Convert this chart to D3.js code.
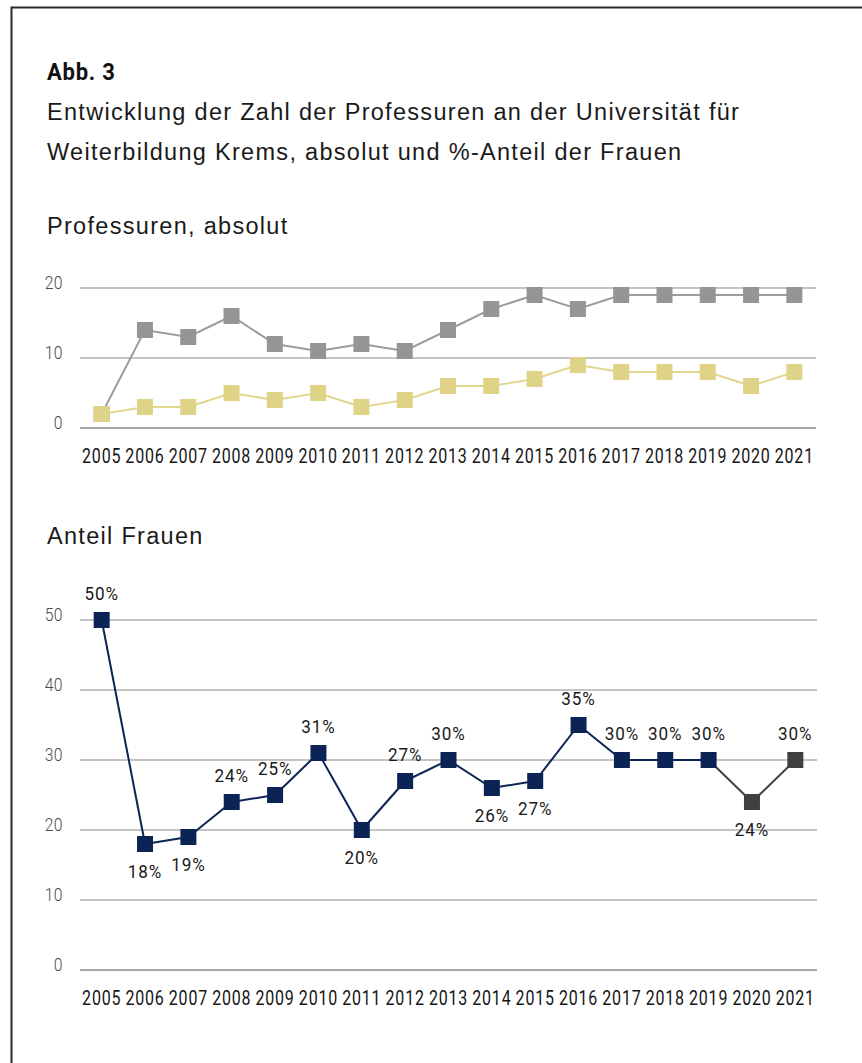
<!DOCTYPE html>
<html>
<head>
<meta charset="utf-8">
<script src="https://cdn.jsdelivr.net/npm/d3@7"></script>
<style>
  html, body { margin: 0; padding: 0; background: #fff; }
  svg { display: block; }
</style>
</head>
<body>
<svg id="chart" width="862" height="1063"></svg>
<script>
// Jahre (Kategorien der x-Achse)
const years = ["2005","2006","2007","2008","2009","2010","2011","2012","2013",
               "2014","2015","2016","2017","2018","2019","2020","2021"];

// Professuren gesamt (absolut)
const professurenGesamt = [2, 14, 13, 16, 12, 11, 12, 11, 14, 17, 19, 17, 19, 19, 19, 19, 19];
// davon Frauen (absolut)
const professurenFrauen = [2, 3, 3, 5, 4, 5, 3, 4, 6, 6, 7, 9, 8, 8, 8, 6, 8];

// Frauenanteil in Prozent
const anteilFrauen = [50, 18, 19, 24, 25, 31, 20, 27, 30, 26, 27, 35, 30, 30, 30, 24, 30];
// Jahre, deren Beschriftung unter dem Punkt steht
const labelBelow = ["2006", "2007", "2011", "2014", "2015", "2020"];
// Jahre, die in Dunkelgrau dargestellt werden
const greyYears = ["2020", "2021"];

// Achsenbeschriftungen
const ticksAbsolut = [0, 10, 20];
const ticksAnteil = [0, 10, 20, 30, 40, 50];

const svg = d3.select("#chart");
const cond = "Roboto, 'DejaVu Sans', sans-serif";
const sans = "'Liberation Sans', Arial, Helvetica, sans-serif";

// Schmale Schrift: horizontal gestauchter Text an (x, y)
function narrowText(sel, x, y, sx) {
  return sel.attr("x", 0).attr("y", 0)
    .attr("transform", (d, i) => {
      const xx = typeof x === "function" ? x(d, i) : x;
      const yy = typeof y === "function" ? y(d, i) : y;
      return `translate(${xx},${yy}) scale(${sx},1)`;
    });
}

// Rahmen
svg.append("path")
  .attr("d", "M11.5,1063 V7.5 H862")
  .attr("fill", "none")
  .attr("stroke", "#2a2a2a")
  .attr("stroke-width", 2);

// Überschriften
narrowText(svg.append("text").datum("Abb. 3"), 47, 80, 0.92)
  .attr("font-family", cond).attr("font-weight", "bold").attr("font-size", 24)
  .attr("letter-spacing", 0.8)
  .attr("fill", "#111").text(d => d);

const titleLines = [
  "Entwicklung der Zahl der Professuren an der Universität für",
  "Weiterbildung Krems, absolut und %-Anteil der Frauen"
];
const headStyle = sel => sel
  .attr("font-family", sans).attr("font-size", 23.5)
  .attr("letter-spacing", 1.3)
  .attr("fill", "#1a1a1a");

svg.selectAll("text.title").data(titleLines).join("text")
  .attr("class", "title")
  .attr("x", 47).attr("y", (d, i) => 120 + i * 40)
  .call(headStyle).text(d => d);

svg.append("text").attr("x", 47).attr("y", 234)
  .call(headStyle).text("Professuren, absolut");

svg.append("text").attr("x", 47).attr("y", 544)
  .call(headStyle).text("Anteil Frauen");

const markerSize = 16;

function drawGrid(g, x, y, ticks) {
  const [x0, x1] = x.range();
  g.selectAll("line.grid").data(ticks).join("line")
    .attr("class", "grid")
    .attr("x1", x0).attr("x2", x1)
    .attr("y1", d => y(d)).attr("y2", d => y(d))
    .attr("stroke", d => d === 0 ? "#a6a6a6" : "#c4c4c4")
    .attr("stroke-width", 2);
  narrowText(g.selectAll("text.ytick").data(ticks).join("text"), 63, d => y(d) + 1, 0.85)
    .attr("class", "ytick")
    .attr("text-anchor", "end")
    .attr("font-family", cond).attr("font-weight", 300).attr("font-size", 18.5)
    .attr("letter-spacing", 0.5)
    .attr("fill", "#4a4a4a").text(d => d);
}

function drawYears(g, x, baseline) {
  narrowText(g.selectAll("text.year").data(years).join("text"),
      d => x(d) + x.bandwidth() / 2, baseline, 0.8)
    .attr("class", "year")
    .attr("text-anchor", "middle")
    .attr("font-family", cond).attr("font-size", 20)
    .attr("letter-spacing", 1)
    .attr("fill", "#161616").text(d => d);
}

// ---------- Diagramm 1: Professuren absolut ----------
const x1 = d3.scaleBand().domain(years).range([80, 816]).padding(0);
const y1 = d3.scaleLinear().domain([0, 20]).range([428, 288]);
const g1 = svg.append("g");
drawGrid(g1, x1, y1, ticksAbsolut);
drawYears(g1, x1, 463);

const cx1 = d => x1(d) + x1.bandwidth() / 2;

function drawSeries(g, values, lineColor, markColor) {
  const pts = years.map((yr, i) => ({ yr, v: values[i] }));
  const line = d3.line().x(d => cx1(d.yr)).y(d => y1(d.v));
  g.append("path").datum(pts)
    .attr("d", line).attr("fill", "none")
    .attr("stroke", lineColor).attr("stroke-width", 2);
  g.append("g").selectAll("rect").data(pts).join("rect")
    .attr("x", d => cx1(d.yr) - markerSize / 2)
    .attr("y", d => y1(d.v) - markerSize / 2)
    .attr("width", markerSize).attr("height", markerSize)
    .attr("fill", markColor);
}
drawSeries(g1, professurenGesamt, "#9c9c9c", "#939695");
drawSeries(g1, professurenFrauen, "#e2d68e", "#dfd388");

// ---------- Diagramm 2: Anteil Frauen ----------
const x2 = d3.scaleBand().domain(years).range([80, 817]).padding(0);
const y2 = d3.scaleLinear().domain([0, 50]).range([970, 620]);
const g2 = svg.append("g");
drawGrid(g2, x2, y2, ticksAnteil);
drawYears(g2, x2, 1005);

const cx2 = d => x2(d) + x2.bandwidth() / 2;
const pts2 = years.map((yr, i) => ({ yr, v: anteilFrauen[i], grey: greyYears.includes(yr) }));
const navy = "#0b2455";
const darkGrey = "#404040";

const line2 = d3.line().x(d => cx2(d.yr)).y(d => y2(d.v));
// Segmente einzeln, damit die Farbe des Zielpunkts übernommen wird
for (let i = 1; i < pts2.length; i++) {
  g2.append("path").datum([pts2[i - 1], pts2[i]])
    .attr("d", line2).attr("fill", "none")
    .attr("stroke", pts2[i].grey ? darkGrey : navy)
    .attr("stroke-width", 2);
}
g2.append("g").selectAll("rect").data(pts2).join("rect")
  .attr("x", d => cx2(d.yr) - markerSize / 2)
  .attr("y", d => y2(d.v) - markerSize / 2)
  .attr("width", markerSize).attr("height", markerSize)
  .attr("fill", d => d.grey ? darkGrey : navy);

narrowText(g2.append("g").selectAll("text").data(pts2).join("text"),
    d => cx2(d.yr),
    d => labelBelow.includes(d.yr) ? y2(d.v) + 34 : y2(d.v) - 20, 0.9)
  .attr("text-anchor", "middle")
  .attr("font-family", cond).attr("font-size", 19)
  .attr("letter-spacing", 1)
  .attr("fill", "#1a1a1a")
  .text(d => d.v + "%");
</script>
</body>
</html>
